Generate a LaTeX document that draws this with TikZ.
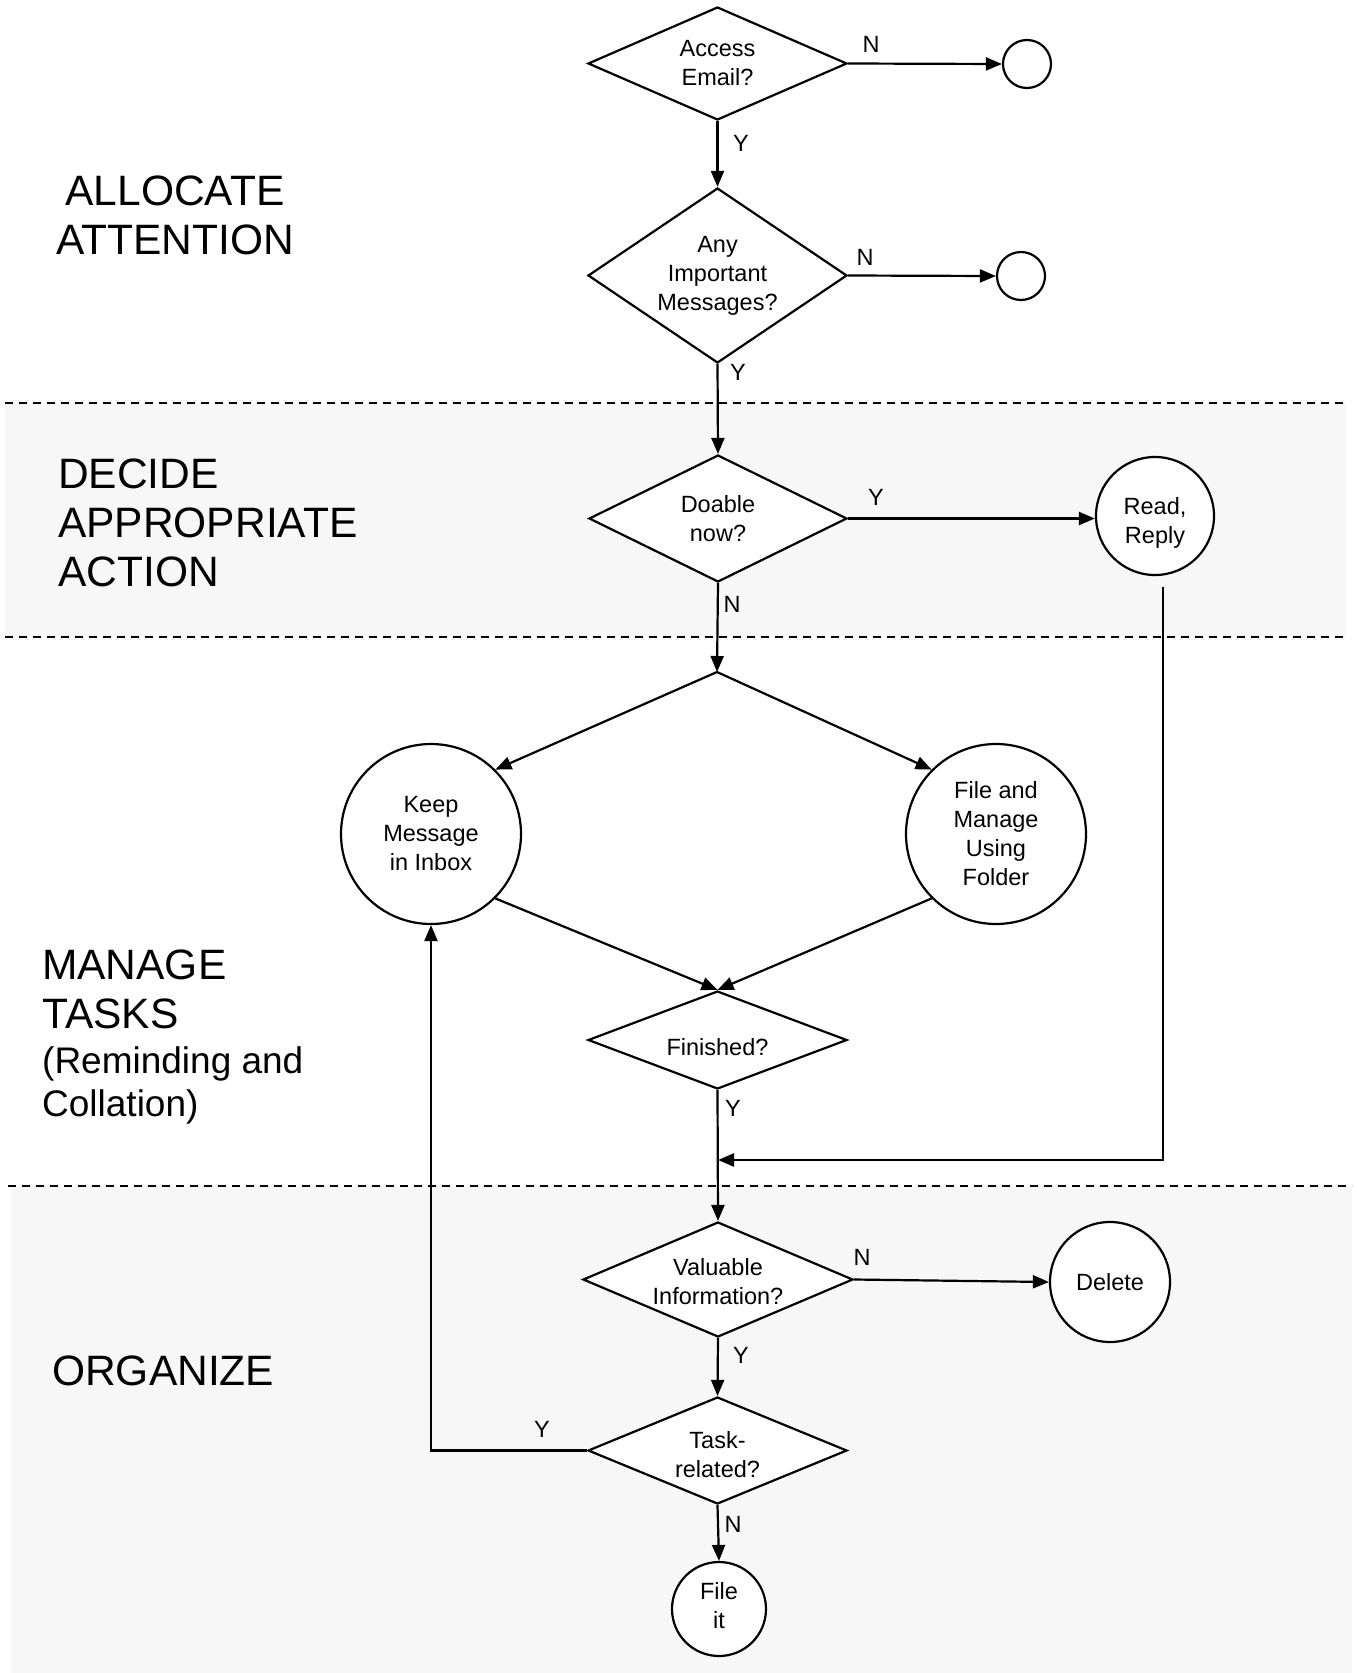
\documentclass[tikz,border=0pt]{standalone}
\usepackage{fontspec}
\setmainfont{Liberation Sans}
\usetikzlibrary{shapes.geometric,arrows.meta}
\definecolor{band}{HTML}{F7F7F7}
\begin{document}
\begin{tikzpicture}[x=1pt,y=-1pt,
  every node/.style={font=\fontsize{23.5}{29}\selectfont, inner sep=0pt},
  dia/.style={diamond, draw, line width=2.2pt, fill=white, align=center},
  circ/.style={circle, draw, line width=2.2pt, fill=white, align=center},
  arr/.style={line width=2.2pt, -{Triangle[length=16pt,width=13pt]}},
  big/.style={font=\fontsize{42.5}{49}\selectfont},
  sepline/.style={line width=2pt, dash pattern=on 8pt off 6pt}]
\useasboundingbox (0,0) rectangle (1357,1673);
% bands
\fill[band] (5,403) rectangle (1346,637);
\fill[band] (11,1186) rectangle (1352,1673);
\draw[sepline] (5,403) -- (1346,403);
\draw[sepline] (5,637) -- (1346,637);
\draw[sepline] (8,1186) -- (1352,1186);
% section labels
\node[big, align=center, anchor=north] (la) at (175,176) {ALLOCATE\\ATTENTION};
\node[big, align=left, anchor=north west] (ld) at (58,459) {DECIDE\\APPROPRIATE\\ACTION};
\node[big, align=left, anchor=north west] (lm) at (42,950) {MANAGE\\TASKS};
\node[font=\fontsize{37}{43}\selectfont, align=left, anchor=north west] (lm2) at (42,1046) {(Reminding and\\Collation)};
\node[big, anchor=north west] (lo) at (52,1356) {ORGANIZE};
% decisions
\node[dia, aspect=2.29, minimum width=259pt, minimum height=113pt] (d1) at (717.5,63.5) {Access\\Email?};
\node[dia, aspect=1.48, minimum width=259pt, minimum height=175pt] (d2) at (717.5,275.5) {Any\\Important\\Messages?};
\node[dia, aspect=2.03, minimum width=258pt, minimum height=127pt] (d3) at (718,518.5) {Doable\\now?};
\node[dia, aspect=2.64, minimum width=259pt, minimum height=98pt, label={[yshift=-7pt]center:Finished?}] (d4) at (717.5,1040) {};
\node[dia, aspect=2.35, minimum width=270pt, minimum height=115pt, label={[yshift=-2pt,align=center]center:Valuable\\Information?}] (d5) at (718,1279.5) {};
\node[dia, aspect=2.42, minimum width=259pt, minimum height=107pt, label={[yshift=-4pt,align=center]center:Task-\\related?}] (d6) at (717.5,1450.5) {};
% terminals / actions
\node[circ, minimum size=48pt] (c1) at (1027,64) {};
\node[circ, minimum size=48pt] (c2) at (1021,276) {};
\node[circ, minimum size=118pt, label={[yshift=-7pt,align=center]center:Read,\\Reply}] (rr) at (1155,516) {};
\node[circ, minimum size=180pt] (keep) at (431,834) {Keep\\Message\\in Inbox};
\node[circ, minimum size=180pt] (fm) at (996,834) {File and\\Manage\\Using\\Folder};
\node[circ, minimum size=120pt] (del) at (1110,1282) {Delete};
\node[circ, minimum size=94pt, label={[yshift=3pt,align=center]center:File\\it}] (fit) at (719,1609) {};
% connectors
\coordinate (br) at (717,672);
\coordinate (mg) at (718,1160);
\draw[arr] (d1.east) -- (c1.west);
\draw[arr] (d1.south) -- (d2.north);
\draw[arr] (d2.east) -- (c2.west);
\draw[arr] (d2.south) -- (d3.north);
\draw[arr] (d3.east) -- (d3.east -| rr.west);
\draw[arr] (d3.south) -- (br);
\draw[arr] (br) -- (keep.45);
\draw[arr] (br) -- (fm.135);
\draw[arr] (keep.-45) -- (d4.north);
\draw[arr] (fm.-135) -- (d4.north);
\draw[arr] (d4.south) -- (d5.north);
\draw[arr] ([xshift=8pt,yshift=-11pt]rr.south) |- (mg);
\draw[arr] (d5.east) -- (del.west);
\draw[arr] (d5.south) -- (d6.north);
\draw[arr] (d6.west) -| (keep.south);
\draw[arr] (d6.south) -- (fit.north);
% branch labels
\node (n1) at (871,44) {N};
\node (y1) at (741,143) {Y};
\node (n2) at (865,257) {N};
\node (y2) at (738,372) {Y};
\node (y3) at (876,497) {Y};
\node (n3) at (732,604) {N};
\node (y4) at (733,1108) {Y};
\node (n4) at (862,1257) {N};
\node (y5) at (741,1355) {Y};
\node (y6) at (542,1429) {Y};
\node (n5) at (733,1524) {N};
\end{tikzpicture}
\end{document}
